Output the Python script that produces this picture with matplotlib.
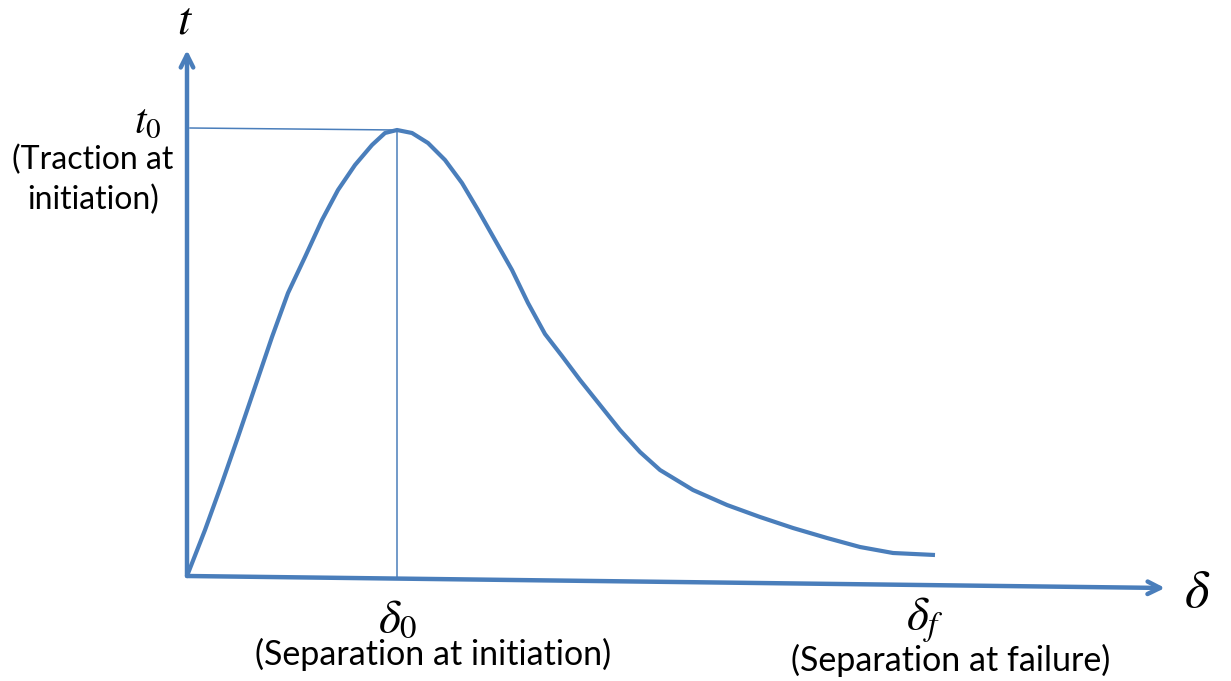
import matplotlib.pyplot as plt

plt.rcParams['mathtext.fontset'] = 'stix'

# traction-separation curve (separation, traction)
sep = [0, 18, 35, 51, 68, 85, 101, 118, 135, 151, 168, 185, 198, 210,
       225, 241, 258, 275, 291, 308, 325, 341, 358, 375, 393, 413, 433,
       453, 473, 506, 540, 573, 606, 640, 673, 706, 748]
trac = [0, 46, 93, 139, 189, 239, 283, 319, 356, 386, 411, 431, 443, 446,
        443, 433, 416, 393, 366, 336, 306, 273, 242, 220, 196, 171, 146,
        124, 106, 86, 71, 59, 48, 38, 29, 23, 21]

# key points
delta_0 = 210
delta_f = 748
t_0 = 447
t_axis_top = 526
d_axis_end = 978
d_axis_drop = -12

blue = '#4a7ebb'

fig = plt.figure(figsize=(12.31, 6.81), dpi=100)
ax = fig.add_axes([0, 0, 1, 1])
ax.set_xlim(-187, 1231 - 187)
ax.set_ylim(576 - 681, 576)
ax.axis('off')

# axes with open arrow heads
ax.annotate('', xy=(0, t_axis_top), xytext=(0, 0),
            arrowprops=dict(arrowstyle='->,head_length=0.9,head_width=0.45',
                            color=blue, lw=3.2, shrinkA=0, shrinkB=0))
ax.annotate('', xy=(d_axis_end, d_axis_drop), xytext=(0, 0),
            arrowprops=dict(arrowstyle='->,head_length=0.9,head_width=0.45',
                            color=blue, lw=3.2, shrinkA=0, shrinkB=0))

# guide lines to the peak
ax.plot([3, delta_0], [t_0 + 1, t_0 - 1], color=blue, lw=1.1)
ax.plot([delta_0, delta_0], [t_0 - 1, -2], color=blue, lw=1.1)

# curve
ax.plot(sep, trac, color=blue, lw=3, solid_capstyle='butt', solid_joinstyle='round')

# symbols
ax.text(-2, 555, '$t$', fontsize=34, ha='center', va='center')
ax.text(1010, -16, r'$\delta$', fontsize=38, ha='center', va='center')
ax.text(-39, 444, '$t_0$', fontsize=30, ha='center', va='baseline')
ax.text(delta_0 + 1, -56, r'$\delta_0$', fontsize=34, ha='center', va='baseline')
ax.text(delta_f - 10, -54, r'$\delta_f$', fontsize=34, ha='center', va='baseline')

# descriptions
txt = dict(family='Lato', ha='center', va='center', color='black')
ax.text(-94, 416, '(Traction at', fontsize=23, **txt)
ax.text(-94, 376, 'initiation)', fontsize=23, **txt)
ax.text(246, -78, '(Separation at initiation)', fontsize=24.5, **txt)
ax.text(764, -84, '(Separation at failure)', fontsize=24.5, **txt)

fig.savefig('out.png', dpi=100)
